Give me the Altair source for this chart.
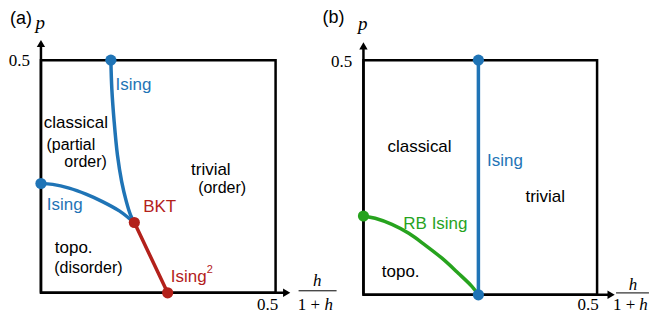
import altair as alt
import pandas as pd

# ---------------- panel (a) ----------------
a_upper_x = [0.149, 0.151, 0.156, 0.163, 0.172, 0.182, 0.191, 0.199]
a_upper_y = [0.500, 0.439, 0.368, 0.296, 0.239, 0.196, 0.167, 0.151]
a_left_x = [0.000, 0.025, 0.060, 0.096, 0.131, 0.167, 0.188, 0.199]
a_left_y = [0.235, 0.233, 0.225, 0.212, 0.196, 0.176, 0.160, 0.151]
a_red_x = [0.199, 0.270]
a_red_y = [0.151, 0.000]
a_dot_x = [0.149, 0.000, 0.199, 0.270]
a_dot_y = [0.500, 0.235, 0.151, 0.000]
a_dot_kind = ["Ising", "Ising", "BKT", "Ising2"]

a_lab_text = ["classical", "(partial", "order)", "trivial", "(order)", "topo.", "(disorder)",
              "Ising", "BKT", "Ising", "Ising", "2"]
a_lab_x = [0.0745, 0.0638, 0.0951, 0.362, 0.386, 0.0698, 0.101, 0.0507, 0.253, 0.197, 0.315, 0.3596]
a_lab_y = [0.365, 0.3176, 0.2818, 0.264, 0.225, 0.0959, 0.053, 0.189, 0.185, 0.446, 0.035, 0.0494]
a_lab_kind = ["txt", "sub", "sub", "txt", "sub", "txt", "sub", "Ising", "BKT", "Ising", "Ising2", "sup"]

# ---------------- panel (b) ----------------
b_blue_x = [0.246, 0.246]
b_blue_y = [0.500, 0.000]
b_green_x = [0.000, 0.025, 0.061, 0.097, 0.132, 0.168, 0.203, 0.232, 0.246]
b_green_y = [0.168, 0.163, 0.150, 0.131, 0.106, 0.078, 0.046, 0.018, 0.000]
b_dot_x = [0.246, 0.000, 0.246]
b_dot_y = [0.500, 0.168, 0.000]
b_dot_kind = ["Ising", "RB", "Ising"]

b_lab_text = ["classical", "Ising", "trivial", "RB Ising", "topo."]
b_lab_x = [0.120, 0.303, 0.389, 0.154, 0.0797]
b_lab_y = [0.3155, 0.2857, 0.209, 0.151, 0.0496]
b_lab_kind = ["txt", "Ising", "txt", "RB", "txt"]

COLORS = {"Ising": "#1f74b6", "BKT": "#b3211b", "Ising2": "#b3211b", "sup": "#b3211b",
          "RB": "#27a31e", "txt": "#000000", "sub": "#000000"}
SIZES = {"Ising": 17, "BKT": 17, "Ising2": 17, "sup": 11, "RB": 17, "txt": 17, "sub": 16}
SANS = "Liberation Sans"
SERIF = "Liberation Serif"


def enc(xdom, ydom):
    X = alt.X("x:Q", scale=alt.Scale(domain=xdom, nice=False, zero=False), axis=None)
    Y = alt.Y("y:Q", scale=alt.Scale(domain=ydom, nice=False, zero=False), axis=None)
    return X, Y


def text_layer(d, X, Y, font, align="center", italic=False, baseline="middle"):
    return alt.Chart(d).mark_text(font=font, align=align, baseline=baseline,
                                  fontStyle="italic" if italic else "normal").encode(
        x=X, y=Y, text="t:N",
        color=alt.Color("c:N", scale=None),
        size=alt.Size("fs:Q", scale=None))


def one(t, x, y, fs):
    return pd.DataFrame({"t": [t], "x": [x], "y": [y], "c": ["#000"], "fs": [fs]})


def panel(width, xdom, ydom, curves, dots, labels, tag, tag_xy, tips, ticks, frac):
    X, Y = enc(xdom, ydom)
    box = alt.Chart(pd.DataFrame({"x": [0.0], "x2": [0.5], "y": [0.0], "y2": [0.5]})).mark_rect(
        fillOpacity=0, stroke="black", strokeWidth=2.5).encode(x=X, x2="x2:Q", y=Y, y2="y2:Q")
    axes = alt.Chart(pd.DataFrame({"x": [0.0, 0.0], "x2": [0.0, tips[0]],
                                   "y": [0.0, 0.0], "y2": [tips[1], 0.0]})).mark_rule(
        strokeWidth=2.5, color="black").encode(x=X, x2="x2:Q", y=Y, y2="y2:Q")
    heads = alt.Chart(pd.DataFrame({"x": [tips[0], 0.0], "y": [0.0, tips[1]],
                                    "s": ["triangle-right", "triangle-up"]})).mark_point(
        filled=True, opacity=1, size=70, color="black", strokeWidth=0).encode(
        x=X, y=Y, shape=alt.Shape("s:N", scale=None))
    rows = []
    for cid, (xs, ys, kind) in enumerate(curves):
        for i, (xv, yv) in enumerate(zip(xs, ys)):
            rows.append({"x": xv, "y": yv, "id": cid, "o": i, "c": COLORS[kind]})
    lines = alt.Chart(pd.DataFrame(rows)).mark_line(
        strokeWidth=3.5, interpolate="catmull-rom", strokeCap="round").encode(
        x=X, y=Y, detail="id:N", order="o:Q", color=alt.Color("c:N", scale=None))
    dx, dy, dk = dots
    pts = alt.Chart(pd.DataFrame({"x": dx, "y": dy, "c": [COLORS[k] for k in dk]})).mark_circle(
        size=125, opacity=1).encode(x=X, y=Y, color=alt.Color("c:N", scale=None))
    lt, lx, ly, lk = labels
    lab = text_layer(pd.DataFrame({"t": lt, "x": lx, "y": ly,
                                   "c": [COLORS[k] for k in lk],
                                   "fs": [SIZES[k] for k in lk]}), X, Y, SANS)
    tagl = text_layer(one(tag, tag_xy[0], tag_xy[1], 18), X, Y, SANS, align=tag_xy[2])
    (px_, py_), (ytx, yty), (xtx, xty) = ticks
    pl = text_layer(one("p", px_, py_, 19), X, Y, SERIF, italic=True)
    yt = text_layer(one("0.5", ytx, yty, 17), X, Y, SERIF, align="right")
    xt = text_layer(one("0.5", xtx, xty, 17), X, Y, SERIF, baseline="alphabetic")
    (nx, ny), (lx0, lx1, lyv), (ox, hx, dyv) = frac
    num = text_layer(one("h", nx, ny, 17), X, Y, SERIF, italic=True)
    den_h = text_layer(one("h", hx, dyv, 17), X, Y, SERIF, italic=True, baseline="alphabetic")
    den = text_layer(one("1 +", ox, dyv, 17), X, Y, SERIF, baseline="alphabetic")
    fl = alt.Chart(pd.DataFrame({"x": [lx0], "x2": [lx1], "y": [lyv]})).mark_rule(
        strokeWidth=1, color="black").encode(x=X, x2="x2:Q", y=Y)
    layers = [box, axes, heads, lines, pts, lab, tagl, pl, yt, xt, num, den_h, den, fl]
    return alt.layer(*layers).properties(width=width, height=306)


pa = panel(
    321, [-0.06809, 0.61489], [-0.04506, 0.61159],
    [(a_upper_x, a_upper_y, "Ising"), (a_left_x, a_left_y, "Ising"), (a_red_x, a_red_y, "BKT")],
    (a_dot_x, a_dot_y, a_dot_kind),
    (a_lab_text, a_lab_x, a_lab_y, a_lab_kind),
    "(a)", (-0.066, 0.5895, "left"),
    (0.5236, 0.5358),
    ((-0.0015, 0.580), (-0.0234, 0.498), (0.483, -0.0376)),
    ((0.589, 0.0247), (0.549, 0.630, 0.0043), (0.571, 0.613, -0.0376)),
)

pb = panel(
    321, [-0.07265, 0.61325], [-0.04042, 0.61064],
    [(b_green_x, b_green_y, "RB"), (b_blue_x, b_blue_y, "Ising")],
    (b_dot_x, b_dot_y, b_dot_kind),
    (b_lab_text, b_lab_x, b_lab_y, b_lab_kind),
    "(b)", (-0.0641, 0.5888, "center"),
    (0.530, 0.5304),
    ((-0.0015, 0.578), (-0.0241, 0.497), (0.481, -0.0330)),
    ((0.5769, 0.0209), (0.5406, 0.611, 0.0040), (0.5577, 0.5994, -0.0330)),
)

chart = alt.hconcat(pa, pb, spacing=0, bounds="flush").properties(
    padding=0
).configure_view(stroke=None)

chart.save("out.html", embed_options={"renderer": "svg", "actions": False})
